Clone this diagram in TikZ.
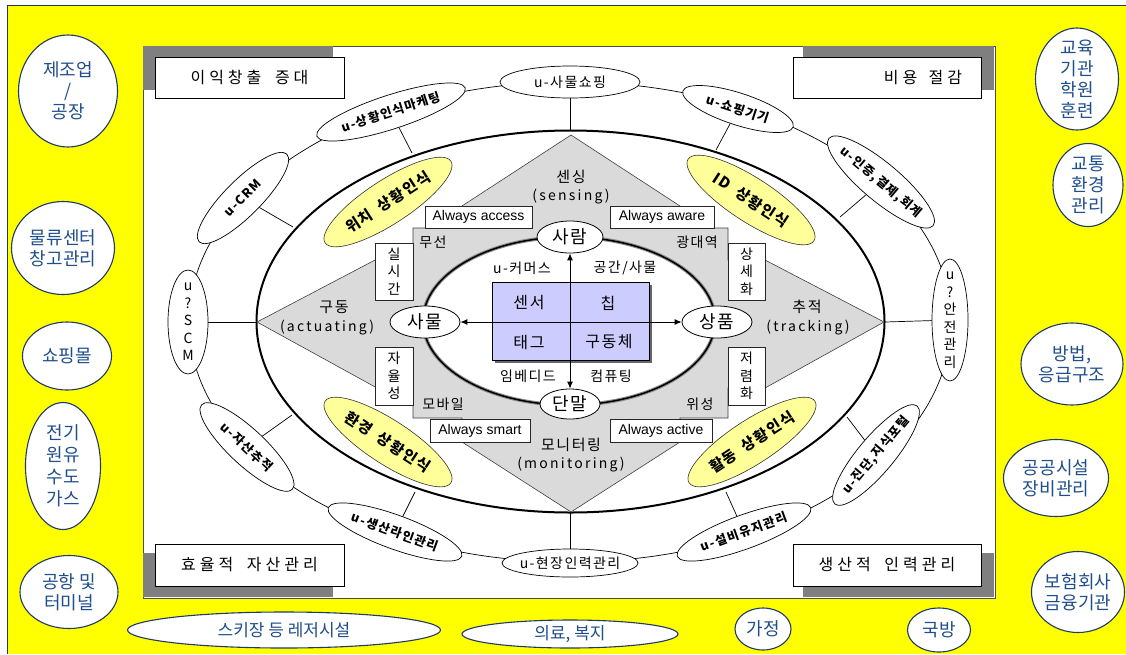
\documentclass[tikz,border=0pt]{standalone}
\usepackage{fontspec}
\setmainfont{Noto Sans CJK KR}
\newfontfamily\krs[LetterSpace=10]{Noto Sans CJK KR}
\newfontfamily\krw[LetterSpace=16]{Noto Sans CJK KR}
\newfontfamily\krx[LetterSpace=25]{Noto Sans CJK KR}
\newfontfamily\lat{Liberation Sans}
\usetikzlibrary{shapes.geometric,arrows.meta}
\definecolor{navy}{HTML}{1F3A68}
\definecolor{tblue}{HTML}{1F4E8C}
\definecolor{yel}{HTML}{FFFF00}
\definecolor{lyel}{HTML}{FFFF99}
\definecolor{crossg}{HTML}{DADADA}
\definecolor{lav}{HTML}{CCCCFF}
\definecolor{gbar}{HTML}{7F7F7F}
\begin{document}
\begin{tikzpicture}[x=1pt,y=-1pt,
  outer/.style={ellipse, draw=navy, line width=1.1pt, fill=white, inner sep=0pt},
  otext/.style={text=tblue, align=center, font=\fontsize{18}{21}\selectfont, inner sep=0pt},
  ring/.style={ellipse, draw=black, line width=0.7pt, fill=white, inner sep=0pt},
  rtext/.style={font=\krs\fontsize{12.5}{15}\selectfont\bfseries, inner sep=0pt, align=center},
  htext/.style={font=\krs\fontsize{14}{18}\selectfont, inner sep=0pt, align=center},
  yell/.style={ellipse, draw=black!80, line width=0.6pt, fill=lyel, inner sep=0pt},
  ytext/.style={font=\krs\fontsize{15}{17}\selectfont\bfseries, inner sep=0pt},
  cbox/.style={rectangle, draw=black, line width=0.9pt, fill=white, inner sep=0pt, font=\krx\fontsize{16}{18}\selectfont},
  wbox/.style={rectangle, draw=black!85, line width=0.6pt, fill=white, inner sep=0pt, align=center},
  gtext/.style={font=\krs\fontsize{14}{18}\selectfont, inner sep=0pt, align=center},
  etext/.style={font=\krw\fontsize{14}{16}\selectfont, inner sep=0pt},
  hub/.style={ellipse, draw=black, line width=0.8pt, fill=white, inner sep=0pt, font=\krs\fontsize{18}{20}\selectfont},
  qtext/.style={font=\krs\fontsize{16}{18}\selectfont, inner sep=0pt},
  spoke/.style={draw=black, line width=0.7pt},
  dbl/.style={{Latex[length=7pt,width=6pt]}-{Latex[length=7pt,width=6pt]}, line width=0.9pt}
]
\useasboundingbox (0,0) rectangle (1126,654);
% background
\fill[white] (0,0) rectangle (1126,654);
\fill[yel] (7,5) rectangle (1126,654);
\draw[navy, line width=1pt] (7,654) -- (7,5) -- (1126,5);
% panel
\filldraw[fill=white, draw=black!70, line width=0.8pt] (143,46) rectangle (995,598);
% corner bars and boxes
\fill[gbar] (143,46) rectangle (333,90);
\fill[gbar] (803,46) rectangle (994,90);
\fill[gbar] (143,553) rectangle (333,597);
\fill[gbar] (803,553) rectangle (994,597);
\node[cbox, minimum width=189pt, minimum height=41pt] (c1) at (249.5,77.5) {이익창출\hspace{6pt} 증대};
\node[cbox, minimum width=188pt, minimum height=41pt, text width=150pt, align=right, inner xsep=19pt] (c2) at (887,77.5) {비용\hspace{6pt} 절감};
\node[cbox, minimum width=189pt, minimum height=42pt] (c3) at (249.5,565) {효율적\hspace{6pt} 자산관리};
\node[cbox, minimum width=188pt, minimum height=42pt] (c4) at (887,565) {생산적\hspace{6pt} 인력관리};

% outer ring
\draw[line width=0.7pt] (570,322) ellipse [x radius=381pt, y radius=240pt];
% big ellipse
\draw[line width=2pt] (570.5,321.5) ellipse [x radius=314pt, y radius=191pt];

% spoke ends on the big ellipse
\coordinate (spE) at (570,130);
\coordinate (hjE) at (570,513);
\coordinate (scmE) at (256,322);
\coordinate (anE) at (885,322);
\coordinate (mkE) at (412,153);
\coordinate (sgE) at (716,150);
\coordinate (crmE) at (293,227);
\coordinate (injE) at (840,217);
\coordinate (jasE) at (292,415);
\coordinate (jinE) at (847,417);
\coordinate (sanE) at (415,492);
\coordinate (seolE) at (726,492);

% ring nodes
\node[ring, minimum width=140pt, minimum height=32pt] (sp) at (570,82) {};
\node[ring, minimum width=156pt, minimum height=34pt, rotate=18] (mk) at (391,112) {};
\node[ring, minimum width=116pt, minimum height=32pt, rotate=-18] (sg) at (738,109) {};
\node[ring, minimum width=124pt, minimum height=36pt, rotate=45] (crm) at (243,198) {};
\node[ring, minimum width=136pt, minimum height=38pt, rotate=-40] (inj) at (881,182) {};
\node[ring, minimum width=40pt, minimum height=104pt] (scm) at (188,322) {};
\node[ring, minimum width=36pt, minimum height=122pt] (an) at (950,320) {};
\node[ring, minimum width=124pt, minimum height=36pt, rotate=-43] (jas) at (247,447) {};
\node[ring, minimum width=128pt, minimum height=36pt, rotate=50] (jin) at (876,455) {};
\node[ring, minimum width=142pt, minimum height=34pt, rotate=-20] (san) at (395,532) {};
\node[ring, minimum width=142pt, minimum height=34pt, rotate=20] (seol) at (744,532) {};
\node[ring, minimum width=136pt, minimum height=28pt] (hj) at (570,563) {};

\foreach \n in {sp,hj,scm,an,mk,sg,crm,inj,jas,jin,san,seol}{\draw[spoke] (\n) -- (\n E);}

\node[htext] (spT) at (sp) {u-사물쇼핑};
\node[htext] (hjT) at (hj) {u-현장인력관리};
\node[rtext, rotate=18] (mkT) at (mk) {u-상황인식마케팅};
\node[rtext, rotate=-18] (sgT) at (sg) {u-쇼핑기기};
\node[rtext, rotate=45] (crmT) at (crm) {u-CRM};
\node[rtext, rotate=-40] (injT) at (inj) {u-인증,결제,회계};
\node[htext, font=\krs\fontsize{14}{17.5}\selectfont] (scmT) at (scm) {u\\?\\S\\C\\M};
\node[htext, font=\krs\fontsize{14}{17.5}\selectfont] (anT) at (an) {u\\?\\안\\전\\관\\리};
\node[rtext, rotate=-43] (jasT) at (jas) {u-자산추적};
\node[rtext, rotate=50] (jinT) at (jin) {u-진단,지식포털};
\node[rtext, rotate=-20] (sanT) at (san) {u-생산라인관리};
\node[rtext, rotate=20] (seolT) at (seol) {u-설비유지관리};

% yellow ellipses
\node[yell, minimum width=150pt, minimum height=44pt, rotate=33] (y1) at (388,202) {};
\node[yell, minimum width=150pt, minimum height=44pt, rotate=-33] (y2) at (751,200) {};
\node[yell, minimum width=150pt, minimum height=44pt, rotate=-33] (y3) at (388,442) {};
\node[yell, minimum width=150pt, minimum height=44pt, rotate=33] (y4) at (752,442) {};
\node[ytext, rotate=33] (y1T) at (y1) {위치\hspace{4pt} 상황인식};
\node[ytext, rotate=-33] (y2T) at (y2) {ID\hspace{4pt} 상황인식};
\node[ytext, rotate=-33] (y3T) at (y3) {환경\hspace{4pt} 상황인식};
\node[ytext, rotate=33] (y4T) at (y4) {활동\hspace{4pt} 상황인식};

% gray cross of four arrows
\filldraw[fill=crossg, draw=black!75, line width=0.6pt]
  (571,135) -- (680,206) -- (680,228) -- (728,228) -- (728,260) -- (765,260)
  -- (884,322) -- (765,388) -- (728,388) -- (728,418) -- (680,418) -- (680,442)
  -- (571,512) -- (462,442) -- (462,418) -- (413,418) -- (413,388) -- (377,388)
  -- (257,322) -- (377,259) -- (413,259) -- (413,228) -- (462,228) -- (462,206) -- cycle;

% white boxes on the cross
\node[wbox, minimum width=107pt, minimum height=22pt, font=\lat\fontsize{14}{16}\selectfont] (aa) at (478.5,217) {Always access};
\node[wbox, minimum width=104pt, minimum height=22pt, font=\lat\fontsize{14}{16}\selectfont] (aw) at (662,217) {Always aware};
\node[wbox, minimum width=100pt, minimum height=23pt, font=\lat\fontsize{14}{16}\selectfont] (as) at (480,430.5) {Always smart};
\node[wbox, minimum width=102pt, minimum height=23pt, font=\lat\fontsize{14}{16}\selectfont] (ac) at (661,430.5) {Always active};
\node[wbox, minimum width=38pt, minimum height=57pt, font=\krs\fontsize{14}{17.5}\selectfont] (ss) at (394,271.5) {실\\시\\간};
\node[wbox, minimum width=37pt, minimum height=57pt, font=\krs\fontsize{14}{17.5}\selectfont] (sd) at (746.5,271.5) {상\\세\\화};
\node[wbox, minimum width=38pt, minimum height=58pt, font=\krs\fontsize{14}{17.5}\selectfont] (ja) at (394,376) {자\\율\\성};
\node[wbox, minimum width=37pt, minimum height=58pt, font=\krs\fontsize{14}{17.5}\selectfont] (jr) at (746.5,376) {저\\렴\\화};

% arrow labels
\node[gtext, font=\krs\fontsize{15}{18}\selectfont] (senT) at (571,177) {센싱};
\node[etext] (sensT) at (571,197) {(sensing)};
\node[gtext, font=\krs\fontsize{15}{18}\selectfont] (guT) at (334,307) {구동};
\node[etext] (actT) at (327,328) {(actuating)};
\node[gtext, font=\krs\fontsize{15}{18}\selectfont] (chT) at (807,307) {추적};
\node[etext] (traT) at (808,328) {(tracking)};
\node[gtext, font=\krs\fontsize{15}{18}\selectfont] (moT) at (571,445) {모니터링};
\node[etext] (monT) at (571,465) {(monitoring)};

% corner words of the centre
\node[gtext] (g1) at (433,242) {무선};
\node[gtext] (g2) at (697,242) {광대역};
\node[gtext] (g3) at (443,404) {모바일};
\node[gtext] (g4) at (700,404) {위성};

% inner ellipse
\filldraw[fill=white, draw=black!45, line width=3.6pt] (569,321) ellipse [x radius=146pt, y radius=84pt];
\draw[black, line width=1.5pt] (569,321) ellipse [x radius=146pt, y radius=84pt];

\node[gtext] (i1) at (522,268) {u-커머스};
\node[gtext] (i2) at (625,268) {공간/사물};
\node[gtext] (i3) at (528,376) {임베디드};
\node[gtext] (i4) at (611,376) {컴퓨팅};

% central block
\fill[black!60] (495,285) rectangle (652,363);
\node[rectangle, draw=black, line width=0.8pt, fill=lav, minimum width=157pt, minimum height=78pt, inner sep=0pt] (cr) at (570.5,321) {};
\node[qtext] (q1) at (529,303) {센서};
\node[qtext] (q2) at (608,303) {칩};
\node[qtext] (q3) at (529,342) {태그};
\node[qtext] (q4) at (609,342) {구동체};

% hub nodes
\node[hub, minimum width=66pt, minimum height=32pt] (sar) at (570,237) {사람};
\node[hub, minimum width=60pt, minimum height=30pt] (dan) at (570,404) {단말};
\node[hub, minimum width=70pt, minimum height=32pt] (sam) at (425,322) {사물};
\node[hub, minimum width=70pt, minimum height=32pt] (sang) at (717,322) {상품};
\draw[dbl] (dan) -- (sar);
\draw[dbl] (sam) -- (sang);

% outer application ellipses
\node[outer, minimum width=99pt, minimum height=112pt] (ze) at (68,91) {};
\node[outer, minimum width=103pt, minimum height=93pt] (mul) at (63,248) {};
\node[outer, minimum width=89pt, minimum height=68pt] (sho) at (67,356) {};
\node[outer, minimum width=75pt, minimum height=127pt] (jeon) at (63,466) {};
\node[outer, minimum width=98pt, minimum height=73pt] (gong) at (69,592) {};
\node[outer, minimum width=313pt, minimum height=36pt] (ski) at (284,630) {};
\node[outer, minimum width=216pt, minimum height=28pt] (uir) at (570,634) {};
\node[outer, minimum width=56pt, minimum height=42pt] (gaj) at (763,629) {};
\node[outer, minimum width=63pt, minimum height=44pt] (guk) at (939,630) {};
\node[outer, minimum width=83pt, minimum height=102pt] (gyo) at (1077,79) {};
\node[outer, minimum width=70pt, minimum height=83pt] (gyt) at (1088,185) {};
\node[outer, minimum width=102pt, minimum height=82pt] (bang) at (1072,364) {};
\node[outer, minimum width=105pt, minimum height=77pt] (gg) at (1056,478) {};
\node[outer, minimum width=93pt, minimum height=81pt] (bo) at (1078,592) {};

\node[otext] (zeT) at (ze) {제조업\\/\\공장};
\node[otext] (mulT) at (mul) {물류센터\\창고관리};
\node[otext] (shoT) at (sho) {쇼핑몰};
\node[otext, font=\fontsize{18}{22}\selectfont] (jeonT) at (jeon) {전기\\원유\\수도\\가스};
\node[otext] (gongT) at (gong) {공항 및\\터미널};
\node[otext, font=\fontsize{17}{20}\selectfont] (skiT) at (ski) {스키장 등 레저시설};
\node[otext, font=\fontsize{17}{20}\selectfont] (uirT) at (uir) {의료, 복지};
\node[otext] (gajT) at (gaj) {가정};
\node[otext] (gukT) at (guk) {국방};
\node[otext] (gyoT) at (gyo) {교육\\기관\\학원\\훈련};
\node[otext] (gytT) at (gyt) {교통\\환경\\관리};
\node[otext] (bangT) at (bang) {방법,\\응급구조};
\node[otext] (ggT) at (gg) {공공시설\\장비관리};
\node[otext] (boT) at (bo) {보험회사\\금융기관};
\end{tikzpicture}
\end{document}
